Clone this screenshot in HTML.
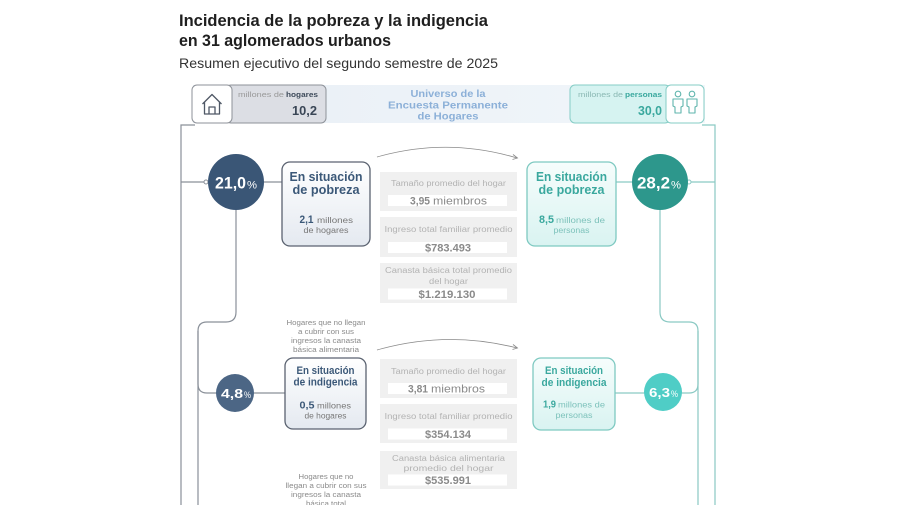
<!DOCTYPE html>
<html>
<head>
<meta charset="utf-8">
<style>
  html,body{margin:0;padding:0;background:#fff;}
  body{width:900px;height:505px;overflow:hidden;}
  svg{display:block;font-family:"Liberation Sans",sans-serif;}
  .lab{font-size:8px;fill:#b3b3b3;}
  .val{font-size:11px;fill:#8a8a8a;}
  .ann{font-size:7px;fill:#8a8a8a;}
</style>
</head>
<body>
<svg width="900" height="505" viewBox="0 0 900 505" xmlns="http://www.w3.org/2000/svg">
  <defs>
    <linearGradient id="gL" x1="0" y1="0" x2="0" y2="1">
      <stop offset="0" stop-color="#ffffff"/>
      <stop offset="1" stop-color="#e4e9f0"/>
    </linearGradient>
    <linearGradient id="gR" x1="0" y1="0" x2="0" y2="1">
      <stop offset="0" stop-color="#f6fdfc"/>
      <stop offset="1" stop-color="#d9f3f1"/>
    </linearGradient>
    <linearGradient id="band" x1="0" y1="0" x2="1" y2="0">
      <stop offset="0" stop-color="#e9eff6"/>
      <stop offset="1" stop-color="#f1f6fa"/>
    </linearGradient>
  </defs>

  <rect width="900" height="505" fill="#fff"/>

  <!-- Titles -->
  <text x="179" y="26" font-size="17" font-weight="bold" fill="#1f1f1f" textLength="309" lengthAdjust="spacingAndGlyphs">Incidencia de la pobreza y la indigencia</text>
  <text x="179" y="46" font-size="17" font-weight="bold" fill="#1f1f1f" textLength="212" lengthAdjust="spacingAndGlyphs">en 31 aglomerados urbanos</text>
  <text x="179" y="68" font-size="13.5" fill="#333" textLength="319" lengthAdjust="spacingAndGlyphs">Resumen ejecutivo del segundo semestre de 2025</text>

  <!-- Frame lines -->
  <path d="M181,505 V125 H195" fill="none" stroke="#8a9099" stroke-width="1.2"/>
  <path d="M702,125 H715 V505" fill="none" stroke="#8ac9c3" stroke-width="1.2"/>

  <!-- Header band -->
  <rect x="193" y="85" width="512" height="38" fill="url(#band)"/>

  <!-- Left header box -->
  <rect x="226" y="85" width="100" height="38" rx="5" fill="#dcdee4" stroke="#8e9299" stroke-width="1"/>
  <rect x="192" y="85" width="40" height="38" rx="5" fill="#fff" stroke="#8e9299" stroke-width="1"/>
  <path d="M202.5,104 L212,94.5 L221.5,104 M204.5,102 V114 H219.5 V102 M209,114 V107 H215 V114" fill="none" stroke="#4f5866" stroke-width="1.3" stroke-linejoin="round"/>
  <text x="238" y="97" font-size="7" fill="#999" textLength="46" lengthAdjust="spacingAndGlyphs">millones de</text>
  <text x="286" y="97" font-size="7" font-weight="bold" fill="#3d4a5a" textLength="32" lengthAdjust="spacingAndGlyphs">hogares</text>
  <text x="292" y="115" font-size="13" font-weight="bold" fill="#3a4656" textLength="25" lengthAdjust="spacingAndGlyphs">10,2</text>

  <!-- Center header text -->
  <g font-size="10" font-weight="bold" fill="#8cb0d8" text-anchor="middle">
    <text x="448" y="97" textLength="75" lengthAdjust="spacingAndGlyphs">Universo de la</text>
    <text x="448" y="108.5" textLength="120" lengthAdjust="spacingAndGlyphs">Encuesta Permanente</text>
    <text x="448" y="119.5" textLength="61" lengthAdjust="spacingAndGlyphs">de Hogares</text>
  </g>

  <!-- Right header box -->
  <rect x="570" y="85" width="100" height="38" rx="5" fill="#d6f3f1" stroke="#86cdc6" stroke-width="1"/>
  <rect x="666" y="85" width="38" height="38" rx="5" fill="#fff" stroke="#86cdc6" stroke-width="1"/>
  <g fill="none" stroke="#5fb5ad" stroke-width="1.1" stroke-linejoin="round">
    <circle cx="678" cy="94" r="2.8"/>
    <circle cx="692" cy="94" r="2.8"/>
    <path d="M673,99 H683 V106 L681,107 V113 H675 V107 L673,106 Z"/>
    <path d="M687,99 H697 V106 L695,107 V113 H689 V107 L687,106 Z"/>
  </g>
  <text x="578" y="97" font-size="7" fill="#8ab8b3" textLength="45" lengthAdjust="spacingAndGlyphs">millones de</text>
  <text x="625" y="97" font-size="7" font-weight="bold" fill="#3aa89e" textLength="37" lengthAdjust="spacingAndGlyphs">personas</text>
  <text x="638" y="115" font-size="13" font-weight="bold" fill="#3aa89e" textLength="24" lengthAdjust="spacingAndGlyphs">30,0</text>

  <!-- Left connectors -->
  <g fill="none" stroke="#8a9099" stroke-width="1.2">
    <path d="M181,182 H209"/>
    <path d="M263,182 H282"/>
    <path d="M236,208 V312 Q236,322 226,322 H207 Q198,322 198,331 V384 Q198,393 207,393 H217"/>
    <path d="M198,331 V505"/>
    <path d="M253,393 H285"/>
  </g>
  <circle cx="206" cy="182" r="2" fill="#fff" stroke="#8a9099" stroke-width="1"/>

  <!-- Right connectors -->
  <g fill="none" stroke="#8ac9c3" stroke-width="1.2">
    <path d="M616,182 H633"/>
    <path d="M687,182 H715"/>
    <path d="M660,208 V312 Q660,322 670,322 H689 Q698,322 698,331 V384 Q698,393 689,393 H681"/>
    <path d="M698,331 V505"/>
    <path d="M615,393 H645"/>
  </g>
  <circle cx="689" cy="182" r="2" fill="#fff" stroke="#8ac9c3" stroke-width="1"/>

  <!-- Circles -->
  <circle cx="236" cy="182" r="28" fill="#3a5676"/>
  <text x="215" y="188.5" font-size="17" font-weight="bold" fill="#fff" textLength="31" lengthAdjust="spacingAndGlyphs">21,0</text>
  <text x="247" y="188.5" font-size="11" fill="#fff" textLength="10" lengthAdjust="spacingAndGlyphs">%</text>

  <circle cx="660" cy="182" r="28" fill="#2d978c"/>
  <text x="637" y="188.5" font-size="17" font-weight="bold" fill="#fff" textLength="33" lengthAdjust="spacingAndGlyphs">28,2</text>
  <text x="671" y="188.5" font-size="11" fill="#fff" textLength="10" lengthAdjust="spacingAndGlyphs">%</text>

  <circle cx="235" cy="393" r="19" fill="#4c6685"/>
  <text x="221" y="398" font-size="13" font-weight="bold" fill="#fff" textLength="22" lengthAdjust="spacingAndGlyphs">4,8</text>
  <text x="244" y="398" font-size="9" fill="#fff" textLength="7" lengthAdjust="spacingAndGlyphs">%</text>

  <circle cx="663" cy="392" r="19" fill="#4fcdc6"/>
  <text x="649" y="397" font-size="13" font-weight="bold" fill="#fff" textLength="21" lengthAdjust="spacingAndGlyphs">6,3</text>
  <text x="671" y="397" font-size="9" fill="#fff" textLength="7" lengthAdjust="spacingAndGlyphs">%</text>

  <!-- Left pobreza box -->
  <rect x="282" y="162" width="88" height="84" rx="8" fill="url(#gL)" stroke="#5a6270" stroke-width="1.3"/>
  <g font-weight="bold" fill="#3b5878" font-size="13" text-anchor="middle">
    <text x="326" y="181" textLength="73" lengthAdjust="spacingAndGlyphs">En situación</text>
    <text x="326" y="194" textLength="67" lengthAdjust="spacingAndGlyphs">de pobreza</text>
  </g>
  <text x="299.5" y="223" font-size="11" font-weight="bold" fill="#3b5878" textLength="14" lengthAdjust="spacingAndGlyphs">2,1</text>
  <text x="317" y="223" font-size="8" fill="#777" textLength="36" lengthAdjust="spacingAndGlyphs">millones</text>
  <text x="326" y="233" font-size="8" fill="#777" text-anchor="middle" textLength="45" lengthAdjust="spacingAndGlyphs">de hogares</text>

  <!-- Right pobreza box -->
  <rect x="527" y="162" width="89" height="84" rx="8" fill="url(#gR)" stroke="#7ec9c1" stroke-width="1.3"/>
  <g font-weight="bold" fill="#3aa89e" font-size="13" text-anchor="middle">
    <text x="571.5" y="181" textLength="71" lengthAdjust="spacingAndGlyphs">En situación</text>
    <text x="571.5" y="194" textLength="66" lengthAdjust="spacingAndGlyphs">de pobreza</text>
  </g>
  <text x="539" y="223" font-size="11" font-weight="bold" fill="#3aa89e" textLength="15" lengthAdjust="spacingAndGlyphs">8,5</text>
  <text x="556" y="223" font-size="8" fill="#7dc2bb" textLength="49" lengthAdjust="spacingAndGlyphs">millones de</text>
  <text x="571.5" y="233" font-size="8" fill="#7dc2bb" text-anchor="middle" textLength="36" lengthAdjust="spacingAndGlyphs">personas</text>

  <!-- Left indigencia box -->
  <rect x="285" y="358" width="81" height="71" rx="8" fill="url(#gL)" stroke="#5a6270" stroke-width="1.3"/>
  <g font-weight="bold" fill="#3b5878" font-size="11" text-anchor="middle">
    <text x="325.5" y="374" textLength="58" lengthAdjust="spacingAndGlyphs">En situación</text>
    <text x="325.5" y="385.5" textLength="64" lengthAdjust="spacingAndGlyphs">de indigencia</text>
  </g>
  <text x="299.5" y="408.5" font-size="10" font-weight="bold" fill="#3b5878" textLength="15" lengthAdjust="spacingAndGlyphs">0,5</text>
  <text x="317" y="408.5" font-size="8" fill="#777" textLength="34" lengthAdjust="spacingAndGlyphs">millones</text>
  <text x="325.5" y="418.5" font-size="8" fill="#777" text-anchor="middle" textLength="42" lengthAdjust="spacingAndGlyphs">de hogares</text>

  <!-- Right indigencia box -->
  <rect x="533" y="358" width="82" height="72" rx="8" fill="url(#gR)" stroke="#7ec9c1" stroke-width="1.3"/>
  <g font-weight="bold" fill="#3aa89e" font-size="11" text-anchor="middle">
    <text x="574" y="374" textLength="58" lengthAdjust="spacingAndGlyphs">En situación</text>
    <text x="574" y="386" textLength="65" lengthAdjust="spacingAndGlyphs">de indigencia</text>
  </g>
  <text x="543" y="407.5" font-size="10" font-weight="bold" fill="#3aa89e" textLength="13" lengthAdjust="spacingAndGlyphs">1,9</text>
  <text x="558" y="407.5" font-size="8" fill="#7dc2bb" textLength="47" lengthAdjust="spacingAndGlyphs">millones de</text>
  <text x="574" y="418" font-size="8" fill="#7dc2bb" text-anchor="middle" textLength="37" lengthAdjust="spacingAndGlyphs">personas</text>

  <!-- Annotations -->
  <g class="ann" text-anchor="middle">
    <text x="326" y="325" textLength="79" lengthAdjust="spacingAndGlyphs">Hogares que no llegan</text>
    <text x="326" y="334" textLength="56" lengthAdjust="spacingAndGlyphs">a cubrir con sus</text>
    <text x="326" y="343" textLength="70" lengthAdjust="spacingAndGlyphs">ingresos la canasta</text>
    <text x="326" y="352" textLength="66" lengthAdjust="spacingAndGlyphs">básica alimentaria</text>

    <text x="326" y="479" textLength="55" lengthAdjust="spacingAndGlyphs">Hogares que no</text>
    <text x="326" y="488" textLength="81" lengthAdjust="spacingAndGlyphs">llegan a cubrir con sus</text>
    <text x="326" y="497" textLength="70" lengthAdjust="spacingAndGlyphs">ingresos la canasta</text>
    <text x="326" y="506" textLength="40" lengthAdjust="spacingAndGlyphs">básica total</text>
  </g>

  <!-- Arrows -->
  <g fill="none" stroke="#8a8a8a" stroke-width="0.8">
    <path d="M377,157 Q447,137 517,158"/>
    <path d="M513,154.5 L517.5,158 L512.5,159.5"/>
    <path d="M377,350 Q447,330 517,348"/>
    <path d="M513,344.5 L517.5,348 L512.5,349.5"/>
  </g>

  <!-- Middle group 1 -->
  <g>
    <rect x="380" y="172" width="137" height="39" fill="#f0f0f0"/>
    <text class="lab" x="448.5" y="186" text-anchor="middle" textLength="115" lengthAdjust="spacingAndGlyphs">Tamaño promedio del hogar</text>
    <rect x="388" y="195" width="119" height="11" fill="#fff"/>
    <text class="val" x="410" y="204.5" font-weight="bold" textLength="20" lengthAdjust="spacingAndGlyphs">3,95</text>
    <text class="val" x="433" y="204.5" textLength="54" lengthAdjust="spacingAndGlyphs">miembros</text>

    <rect x="380" y="217" width="137" height="40" fill="#f0f0f0"/>
    <text class="lab" x="448.5" y="232" text-anchor="middle" textLength="128" lengthAdjust="spacingAndGlyphs">Ingreso total familiar promedio</text>
    <rect x="388" y="242" width="119" height="11" fill="#fff"/>
    <text class="val" x="448" y="251.5" font-weight="bold" text-anchor="middle" textLength="46" lengthAdjust="spacingAndGlyphs">$783.493</text>

    <rect x="380" y="263" width="137" height="40" fill="#f0f0f0"/>
    <text class="lab" x="448.5" y="273" text-anchor="middle" textLength="127" lengthAdjust="spacingAndGlyphs">Canasta básica total promedio</text>
    <text class="lab" x="448.5" y="284" text-anchor="middle" textLength="39" lengthAdjust="spacingAndGlyphs">del hogar</text>
    <rect x="388" y="288.5" width="119" height="11" fill="#fff"/>
    <text class="val" x="447" y="298" font-weight="bold" text-anchor="middle" textLength="57" lengthAdjust="spacingAndGlyphs">$1.219.130</text>
  </g>

  <!-- Middle group 2 -->
  <g>
    <rect x="380" y="359" width="137" height="39" fill="#f0f0f0"/>
    <text class="lab" x="448.5" y="374" text-anchor="middle" textLength="115" lengthAdjust="spacingAndGlyphs">Tamaño promedio del hogar</text>
    <rect x="388" y="383" width="119" height="11" fill="#fff"/>
    <text class="val" x="408" y="392.5" font-weight="bold" textLength="20" lengthAdjust="spacingAndGlyphs">3,81</text>
    <text class="val" x="431" y="392.5" textLength="54" lengthAdjust="spacingAndGlyphs">miembros</text>

    <rect x="380" y="404" width="137" height="39" fill="#f0f0f0"/>
    <text class="lab" x="448.5" y="419" text-anchor="middle" textLength="128" lengthAdjust="spacingAndGlyphs">Ingreso total familiar promedio</text>
    <rect x="388" y="428.5" width="119" height="11" fill="#fff"/>
    <text class="val" x="448" y="438" font-weight="bold" text-anchor="middle" textLength="46" lengthAdjust="spacingAndGlyphs">$354.134</text>

    <rect x="380" y="451" width="137" height="38" fill="#f0f0f0"/>
    <text class="lab" x="448.5" y="461" text-anchor="middle" textLength="113" lengthAdjust="spacingAndGlyphs">Canasta básica alimentaria</text>
    <text class="lab" x="448.5" y="471" text-anchor="middle" textLength="90" lengthAdjust="spacingAndGlyphs">promedio del hogar</text>
    <rect x="388" y="474.5" width="119" height="11" fill="#fff"/>
    <text class="val" x="448" y="484" font-weight="bold" text-anchor="middle" textLength="46" lengthAdjust="spacingAndGlyphs">$535.991</text>
  </g>
</svg>
</body>
</html>
